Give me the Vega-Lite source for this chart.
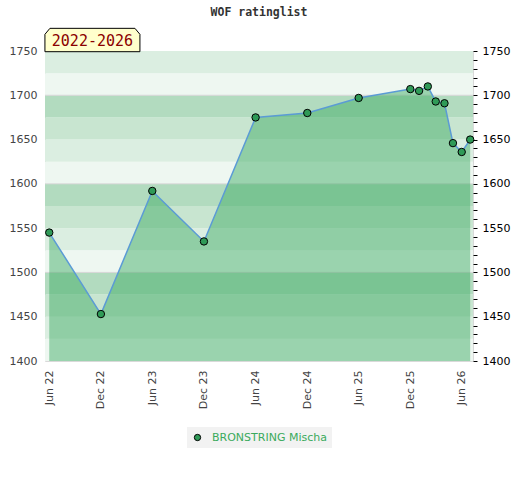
{
  "$schema": "https://vega.github.io/schema/vega-lite/v6.json",
  "width": 428,
  "height": 310,
  "padding": {"left": 9, "top": 6, "right": 5, "bottom": 5},
  "title": {
    "text": "WOF ratinglist",
    "font": "DejaVu Sans Mono",
    "fontSize": 11.5,
    "fontWeight": "bold",
    "color": "#333333",
    "offset": 8
  },
  "datasets": {
    "series": [
      {"date": "2022-06-01", "rating": 1545, "player": "BRONSTRING Mischa"},
      {"date": "2022-12-01", "rating": 1453, "player": "BRONSTRING Mischa"},
      {"date": "2023-06-01", "rating": 1592, "player": "BRONSTRING Mischa"},
      {"date": "2023-12-01", "rating": 1535, "player": "BRONSTRING Mischa"},
      {"date": "2024-06-01", "rating": 1675, "player": "BRONSTRING Mischa"},
      {"date": "2024-12-01", "rating": 1680, "player": "BRONSTRING Mischa"},
      {"date": "2025-06-01", "rating": 1697, "player": "BRONSTRING Mischa"},
      {"date": "2025-12-01", "rating": 1707, "player": "BRONSTRING Mischa"},
      {"date": "2026-01-01", "rating": 1705, "player": "BRONSTRING Mischa"},
      {"date": "2026-02-01", "rating": 1710, "player": "BRONSTRING Mischa"},
      {"date": "2026-03-01", "rating": 1693, "player": "BRONSTRING Mischa"},
      {"date": "2026-04-01", "rating": 1691, "player": "BRONSTRING Mischa"},
      {"date": "2026-05-01", "rating": 1646, "player": "BRONSTRING Mischa"},
      {"date": "2026-06-01", "rating": 1636, "player": "BRONSTRING Mischa"},
      {"date": "2026-07-01", "rating": 1650, "player": "BRONSTRING Mischa"}
    ],
    "bands": [
      {"lo": 1400, "hi": 1425, "tier": "a"},
      {"lo": 1425, "hi": 1450, "tier": "b"},
      {"lo": 1450, "hi": 1475, "tier": "c"},
      {"lo": 1475, "hi": 1500, "tier": "d"},
      {"lo": 1500, "hi": 1525, "tier": "a"},
      {"lo": 1525, "hi": 1550, "tier": "b"},
      {"lo": 1550, "hi": 1575, "tier": "c"},
      {"lo": 1575, "hi": 1600, "tier": "d"},
      {"lo": 1600, "hi": 1625, "tier": "a"},
      {"lo": 1625, "hi": 1650, "tier": "b"},
      {"lo": 1650, "hi": 1675, "tier": "c"},
      {"lo": 1675, "hi": 1700, "tier": "d"},
      {"lo": 1700, "hi": 1725, "tier": "a"},
      {"lo": 1725, "hi": 1750, "tier": "b"}
    ],
    "gridlines": [{"v": 1500}, {"v": 1600}, {"v": 1700}],
    "period": [{"date": "2022-11-01", "rating": 1762.4, "label": "2022-2026"}]
  },
  "layer": [
    {
      "encoding": {
        "y": {
          "type": "quantitative",
          "title": null,
          "scale": {"domain": [1400, 1750], "nice": false, "zero": false},
          "axis": {
            "orient": "left",
            "values": [1400, 1450, 1500, 1550, 1600, 1650, 1700, 1750],
            "format": "d",
            "ticks": false,
            "tickSize": 0,
            "domain": false,
            "grid": false,
            "labelPadding": 8,
            "labelColor": "#444444"
          }
        }
      },
      "layer": [
        {
          "data": {"name": "bands"},
          "mark": {"type": "rect"},
          "encoding": {
            "y": {"field": "lo", "type": "quantitative"},
            "y2": {"field": "hi"},
            "color": {
              "field": "tier",
              "type": "nominal",
              "scale": {
                "domain": ["a", "b", "c", "d"],
                "range": ["#eef7f1", "#dbeee1", "#c8e5d0", "#b2dbbf"]
              },
              "legend": null
            }
          }
        },
        {
          "data": {"name": "gridlines"},
          "mark": {"type": "rule", "color": "#d6d6d6", "strokeWidth": 1},
          "encoding": {
            "y": {"field": "v", "type": "quantitative"}
          }
        },
        {
          "data": {"name": "series"},
          "mark": {
            "type": "area",
            "fill": "#3ca961",
            "fillOpacity": 0.47
          },
          "encoding": {
            "x": {
              "field": "date",
              "type": "temporal",
              "title": null,
              "scale": {
                "domain": [
                  {"year": 2022, "month": 5, "date": 17},
                  {"year": 2026, "month": 7, "date": 11}
                ]
              },
              "axis": {
                "values": [
                  {"year": 2022, "month": 6, "date": 1},
                  {"year": 2022, "month": 12, "date": 1},
                  {"year": 2023, "month": 6, "date": 1},
                  {"year": 2023, "month": 12, "date": 1},
                  {"year": 2024, "month": 6, "date": 1},
                  {"year": 2024, "month": 12, "date": 1},
                  {"year": 2025, "month": 6, "date": 1},
                  {"year": 2025, "month": 12, "date": 1},
                  {"year": 2026, "month": 6, "date": 1}
                ],
                "format": "%b %y",
                "labelAngle": -90,
                "ticks": false,
                "domain": false,
                "grid": false,
                "labelPadding": 9,
                "labelColor": "#444444"
              }
            },
            "y": {"field": "rating", "type": "quantitative"},
            "y2": {"datum": 1400}
          }
        },
        {
          "data": {"name": "series"},
          "transform": [{"filter": {"field": "date", "oneOf": ["2022-06-01", "2026-07-01"]}}],
          "mark": {"type": "rule", "color": "#2f9a57", "strokeWidth": 1},
          "encoding": {
            "x": {"field": "date", "type": "temporal"},
            "y": {"field": "rating", "type": "quantitative"},
            "y2": {"datum": 1400}
          }
        },
        {
          "data": {"name": "series"},
          "mark": {"type": "line", "color": "#5b9bd5", "strokeWidth": 1.5},
          "encoding": {
            "x": {"field": "date", "type": "temporal"},
            "y": {"field": "rating", "type": "quantitative"}
          }
        },
        {
          "data": {"name": "period"},
          "mark": {
            "type": "point",
            "shape": "M-1,0.246 L-1,-0.12 L-0.895,-0.246 L0.895,-0.246 L1,-0.12 L1,0.246 Z",
            "size": 9025,
            "filled": true,
            "fill": "#ffffcc",
            "stroke": "#000000",
            "strokeWidth": 1,
            "opacity": 1,
            "clip": false
          },
          "encoding": {
            "x": {"field": "date", "type": "temporal"},
            "y": {"field": "rating", "type": "quantitative"}
          }
        },
        {
          "data": {"name": "period"},
          "mark": {
            "type": "text",
            "font": "DejaVu Sans Mono",
            "fontSize": 15,
            "color": "#8b0000",
            "align": "center",
            "baseline": "middle",
            "dy": 1,
            "clip": false
          },
          "encoding": {
            "x": {"field": "date", "type": "temporal"},
            "y": {"field": "rating", "type": "quantitative"},
            "text": {"field": "label"}
          }
        }
      ]
    },
    {
      "data": {"name": "series"},
      "mark": {
        "type": "point",
        "filled": true,
        "size": 55,
        "stroke": "#000000",
        "strokeWidth": 1,
        "opacity": 1
      },
      "encoding": {
        "x": {"field": "date", "type": "temporal"},
        "y": {
          "field": "rating",
          "type": "quantitative",
          "title": null,
          "scale": {"domain": [1400, 1750], "nice": false, "zero": false},
          "axis": {
            "orient": "right",
            "values": [1400, 1410, 1420, 1430, 1440, 1450, 1460, 1470, 1480, 1490, 1500, 1510, 1520, 1530, 1540, 1550, 1560, 1570, 1580, 1590, 1600, 1610, 1620, 1630, 1640, 1650, 1660, 1670, 1680, 1690, 1700, 1710, 1720, 1730, 1740, 1750],
            "labelExpr": "datum.value % 50 === 0 ? format(datum.value, 'd') : ''",
            "labelOverlap": false,
            "tickSize": 4,
            "tickColor": "#000000",
            "domain": false,
            "grid": false,
            "labelPadding": 5,
            "labelColor": "#000000"
          }
        },
        "fill": {
          "field": "player",
          "type": "nominal",
          "scale": {"domain": ["BRONSTRING Mischa"], "range": ["#2f9a57"]},
          "legend": {"title": null}
        }
      }
    }
  ],
  "resolve": {"scale": {"y": "independent"}},
  "config": {
    "view": {"stroke": "#d9d9d9"},
    "axis": {"labelFont": "DejaVu Sans", "labelFontSize": 11},
    "legend": {
      "orient": "bottom",
      "fillColor": "#f2f2f2",
      "padding": 5,
      "offset": 18,
      "labelColor": "#3aaa5c",
      "labelFont": "DejaVu Sans",
      "labelFontSize": 11,
      "labelOffset": 9,
      "symbolType": "circle",
      "symbolSize": 40,
      "symbolStrokeColor": "#000000",
      "symbolStrokeWidth": 1,
      "layout": {"bottom": {"anchor": "middle"}}
    }
  }
}
